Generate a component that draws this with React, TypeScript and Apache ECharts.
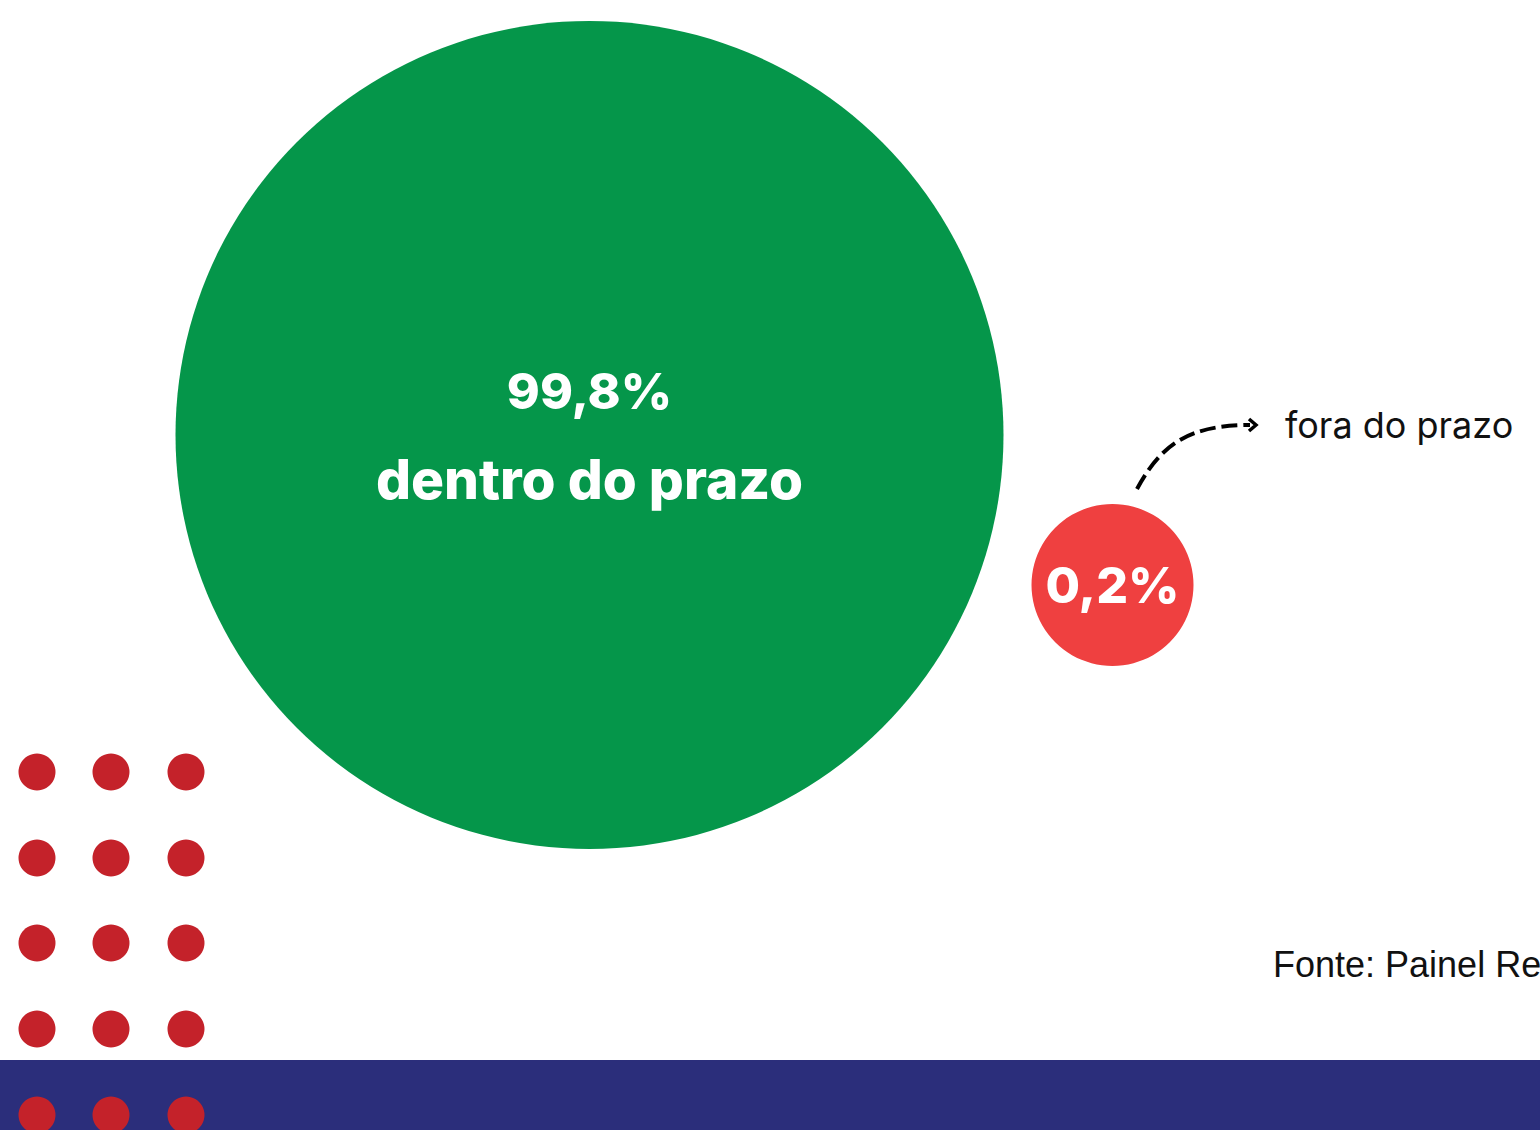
import React, { useEffect, useRef } from "react";
import * as echarts from "echarts";

const categories = ["dentro do prazo", "fora do prazo"];
const shares = [99.8, 0.2];
const footnote = "Fonte: Painel Re";

const GREEN = "#05964A";
const RED = "#EF4040";
const DOT = "#C4222A";
const NAVY = "#2B2E7B";

function fmt(v: number) {
  return v.toFixed(1).replace(".", ",") + "%";
}

export default function App() {
  const ref = useRef<HTMLDivElement>(null);
  useEffect(() => {
    if (!ref.current) return;
    const chart = echarts.init(ref.current, null, { renderer: "svg" });

    const dots: any[] = [];
    const dotXs = [37, 111, 186];
    const dotYs = [772, 858, 943, 1029, 1115];
    dotYs.forEach((y) =>
      dotXs.forEach((x) =>
        dots.push({
          type: "circle",
          shape: { cx: x, cy: y, r: 18.5 },
          style: { fill: DOT },
          z: 10,
        })
      )
    );

    chart.setOption({
      animation: false,
      backgroundColor: "#ffffff",
      grid: { left: 328, width: 1046, top: 0, height: 870 },
      xAxis: { type: "category", data: categories, show: false, boundaryGap: true },
      yAxis: { type: "category", data: ["prazo"], show: false },
      series: [
        {
          type: "scatter",
          silent: true,
          data: shares.map((v, i) => ({
            value: [categories[i], "prazo", v],
            symbolSize: i === 0 ? 828 : 162,
            symbolOffset: i === 0 ? [0, 0] : [0, 150],
            itemStyle: { color: i === 0 ? GREEN : RED, opacity: 1 },
            label: {
              show: true,
              position: "inside",
              formatter: i === 0 ? "{v|" + fmt(v) + "}\n{t|" + categories[i] + "}" : "{v|" + fmt(v) + "}",
              rich: {
                v: {
                  fontFamily: "Inter",
                  fontWeight: 800,
                  fontSize: 50,
                  color: "#ffffff",
                  lineHeight: 88,
                  align: "center",
                },
                t: {
                  fontFamily: "Inter",
                  fontWeight: 800,
                  fontSize: 55,
                  color: "#ffffff",
                  lineHeight: 88,
                  align: "center",
                },
              },
            },
          })),
        },
      ],
      graphic: [
        {
          type: "rect",
          shape: { x: 0, y: 1060, width: 1540, height: 70 },
          style: { fill: NAVY },
          z: 5,
        },
        ...dots,
        {
          type: "bezierCurve",
          shape: { x1: 1137, y1: 489, cpx1: 1162, cpy1: 442, cpx2: 1192, cpy2: 425, x2: 1250, y2: 425 },
          style: { stroke: "#000", lineWidth: 4, lineDash: [16, 6], fill: "none" },
          z: 10,
        },
        {
          type: "polyline",
          shape: { points: [[1249, 419], [1256, 425], [1249, 431]] },
          style: { stroke: "#000", lineWidth: 3.5, fill: "none" },
          z: 10,
        },
        {
          type: "text",
          x: 1285,
          y: 425,
          style: {
            text: categories[1],
            fontFamily: "Inter",
            fontSize: 36,
            fill: "#111",
            verticalAlign: "middle",
            align: "left",
          },
          z: 10,
        },
        {
          type: "text",
          x: 1273,
          y: 964,
          style: {
            text: footnote,
            fontFamily: "Liberation Sans",
            fontSize: 36,
            fill: "#111",
            verticalAlign: "middle",
            align: "left",
          },
          z: 10,
        },
      ],
    });
    return () => chart.dispose();
  }, []);
  return (
    <div
      ref={ref}
      style={{ position: "fixed", left: 0, top: 0, width: 1540, height: 1130 }}
    />
  );
}
